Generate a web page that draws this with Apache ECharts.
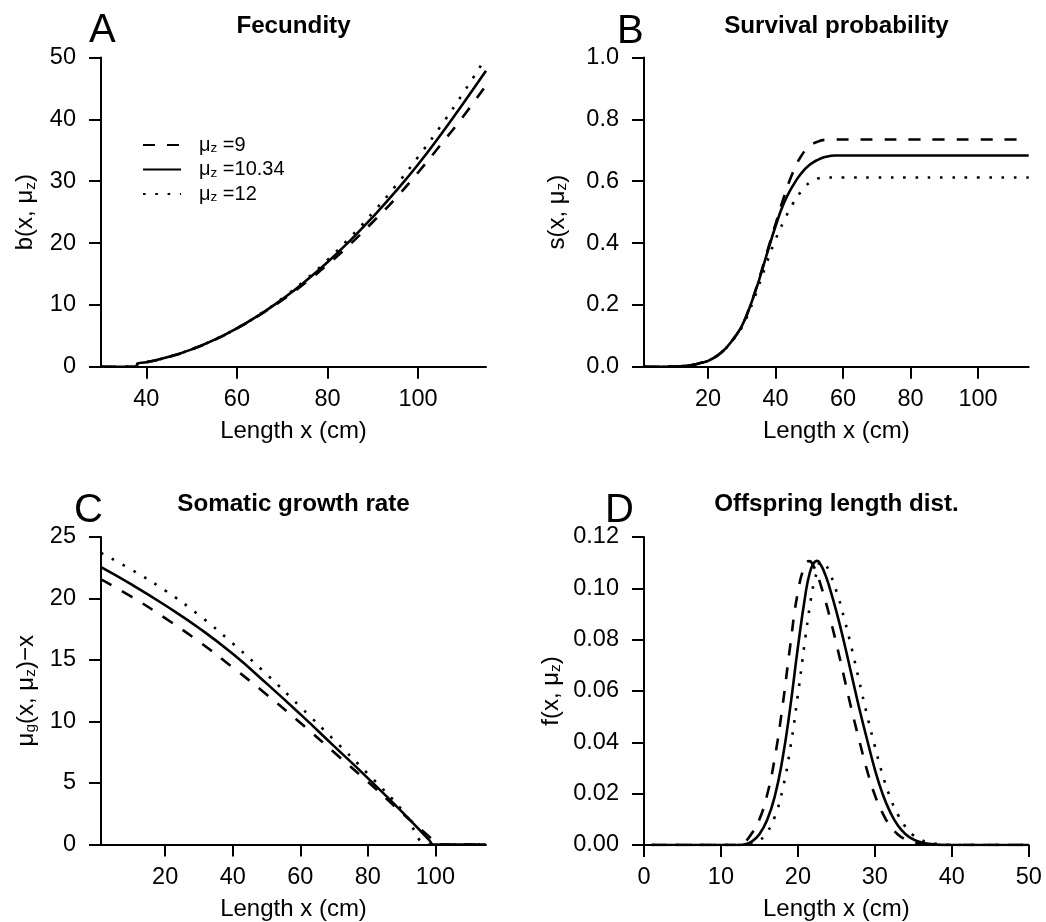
<!DOCTYPE html>
<html>
<head>
<meta charset="utf-8">
<title>Vital rates</title>
<script src="https://cdn.jsdelivr.net/npm/echarts@6/dist/echarts.min.js"></script>
<style>
  html, body { margin: 0; padding: 0; background: #fff; }
  #chart { width: 1046px; height: 922px; }
</style>
</head>
<body>
<div id="chart"></div>
<script>
// legend: mu_z values
var muValues = ['9', '10.34', '12'];

// A - fecundity
var xFec = [30, 37.9, 38, 40, 45, 50, 55, 60, 65, 70, 75, 80, 85, 90, 95, 100, 105, 110, 115];
var fec9 = [0, 0, 0.46, 0.72, 1.58, 2.79, 4.32, 6.2, 8.33, 10.76, 13.5, 16.5, 19.8, 23.4, 27.2, 31.4, 35.9, 40.5, 45.5];
var fec1034 = [0, 0, 0.46, 0.72, 1.59, 2.8, 4.33, 6.2, 8.39, 10.9, 13.74, 16.9, 20.4, 24.2, 28.3, 32.7, 37.5, 42.6, 47.85];
var fec12 = [0, 0, 0.46, 0.73, 1.6, 2.81, 4.35, 6.22, 8.44, 11.03, 13.97, 17.25, 20.9, 24.9, 29.2, 33.9, 38.9, 44.3, 50];

// B - survival
var xSurv = [1, 5, 10, 12.5, 15, 17.5, 20, 22.5, 25, 27.5, 30, 32.5, 35, 37.5, 40, 42.5, 45, 47.5, 50, 52.5, 55, 57.5, 60, 70, 80, 90, 100, 110, 115];
var surv9 = [0, 0, 0.0005, 0.002, 0.005, 0.011, 0.019, 0.034, 0.057, 0.09, 0.133, 0.199, 0.281, 0.372, 0.462, 0.55, 0.625, 0.68, 0.712, 0.728, 0.734, 0.735, 0.735, 0.735, 0.735, 0.735, 0.735, 0.735, 0.735];
var surv1034 = [0, 0, 0.0005, 0.002, 0.005, 0.011, 0.019, 0.034, 0.057, 0.09, 0.132, 0.197, 0.277, 0.367, 0.455, 0.53, 0.583, 0.624, 0.652, 0.669, 0.679, 0.683, 0.683, 0.683, 0.683, 0.683, 0.683, 0.683, 0.683];
var surv12 = [0, 0, 0.0005, 0.002, 0.005, 0.011, 0.019, 0.034, 0.056, 0.088, 0.127, 0.188, 0.262, 0.34, 0.412, 0.472, 0.525, 0.566, 0.595, 0.609, 0.612, 0.612, 0.612, 0.612, 0.612, 0.612, 0.612, 0.612, 0.612];

// C - somatic growth
var xGrowth = [1, 10, 20, 30, 40, 50, 60, 70, 80, 90, 98.2, 99.4, 100.8, 105, 115];
var growth9 = [21.55, 20.15, 18.4, 16.5, 14.4, 12.2, 9.9, 7.5, 5.1, 2.6, 0.63, 0.34, 0, 0, 0];
var growth1034 = [22.55, 21.15, 19.45, 17.6, 15.5, 13.1, 10.6, 8.0, 5.4, 2.7, 0.35, 0, 0, 0, 0];
var growth12 = [23.7, 22.35, 20.65, 18.65, 16.35, 13.85, 11.2, 8.5, 5.75, 2.85, 0, 0, 0, 0, 0];

// D - offspring length distribution
var xOff = [1, 5, 10, 12, 13, 14, 15, 16, 17, 18, 19, 20, 21, 21.5, 22, 22.5, 23, 23.5, 24, 25, 26, 27, 28, 29, 30, 31, 32, 33, 34, 35, 36, 37, 38, 39, 40, 45, 50];
var off9 = [0, 0, 0, 0, 0.001, 0.0045, 0.01, 0.0195, 0.034, 0.054, 0.0775, 0.0985, 0.1097, 0.1106, 0.1088, 0.1055, 0.101, 0.096, 0.0905, 0.0785, 0.0655, 0.0525, 0.0405, 0.029, 0.0195, 0.0125, 0.0074, 0.0041, 0.0021, 0.001, 0.0004, 0.0001, 0, 0, 0, 0, 0];
var off1034 = [0, 0, 0, 0, 0.0002, 0.0013, 0.0042, 0.0097, 0.019, 0.0335, 0.0535, 0.077, 0.098, 0.1055, 0.1095, 0.1107, 0.109, 0.1058, 0.1015, 0.091, 0.079, 0.066, 0.053, 0.041, 0.0295, 0.02, 0.0128, 0.0076, 0.0042, 0.0022, 0.0011, 0.0005, 0.0002, 0, 0, 0, 0];
var off12 = [0, 0, 0, 0, 0, 0.0003, 0.0017, 0.005, 0.011, 0.0215, 0.0375, 0.0585, 0.0815, 0.092, 0.101, 0.1065, 0.1105, 0.1095, 0.107, 0.099, 0.0885, 0.0765, 0.0635, 0.0505, 0.0385, 0.0275, 0.0185, 0.0118, 0.007, 0.0038, 0.002, 0.001, 0.0005, 0.0002, 0, 0, 0];

// tick values
var xTicksA = [40, 60, 80, 100];
var xTicksBC = [20, 40, 60, 80, 100];
var xTicksD = [0, 10, 20, 30, 40, 50];
var yTicksA = [0, 10, 20, 30, 40, 50];
var yTicksB = [0, 0.2, 0.4, 0.6, 0.8, 1.0];
var yTicksC = [0, 5, 10, 15, 20, 25];
var yTicksD = [0, 0.02, 0.04, 0.06, 0.08, 0.10, 0.12];

var FONT = "'Liberation Sans', Arial, Helvetica, sans-serif";
var seriesNames = muValues.map(function (v) { return 'μz =' + v; });
var lineStyles = [
    {color: '#000', width: 2.6, type: [12, 12]},
    {color: '#000', width: 2.6, type: 'solid'},
    {color: '#000', width: 2.6, type: [2.6, 9.7], cap: 'butt'}
];
var subRich = {sub: {fontSize: 15.5, padding: [10, 0, 0, 0]}};

function xAxisCfg(grid, min, max, ticks, gap) {
    return {
        type: 'value', gridIndex: grid, min: min, max: max,
        name: 'Length x (cm)', nameLocation: 'middle', nameGap: gap,
        nameTextStyle: {fontSize: 24, color: '#000', fontFamily: FONT},
        axisLine: {show: true, onZero: false, lineStyle: {color: '#000', width: 2}},
        axisTick: {show: true, length: 12, customValues: ticks, lineStyle: {color: '#000', width: 2}},
        axisLabel: {fontSize: 23.5, color: '#000', margin: 21, customValues: ticks, fontFamily: FONT},
        splitLine: {show: false}
    };
}
function yAxisCfg(grid, min, max, ticks, digits, name, gap) {
    return {
        type: 'value', gridIndex: grid, min: min, max: max,
        name: name, nameLocation: 'middle', nameGap: gap, nameRotate: 90,
        nameTextStyle: {fontSize: 24, color: '#000', fontFamily: FONT, rich: subRich},
        axisLine: {show: true, lineStyle: {color: '#000', width: 2}},
        axisTick: {show: true, length: 12, customValues: ticks, lineStyle: {color: '#000', width: 2}},
        axisLabel: {fontSize: 23.5, color: '#000', margin: 25, customValues: ticks, fontFamily: FONT,
            formatter: function (v) { return v.toFixed(digits); }},
        splitLine: {show: false}
    };
}
function makeSeries(grid, xs, ysList) {
    return ysList.map(function (ys, k) {
        return {
            name: seriesNames[k], type: 'line', xAxisIndex: grid, yAxisIndex: grid,
            data: xs.map(function (x, i) { return [x, ys[i]]; }),
            symbol: 'none', smooth: 0.5, lineStyle: lineStyles[k],
            itemStyle: {color: '#000'}, silent: true
        };
    });
}

var chart = echarts.init(document.getElementById('chart'), null, {renderer: 'canvas'});
var titleStyle = {fontSize: 24.2, fontWeight: 'bold', color: '#000', fontFamily: FONT};
var letterStyle = {fontSize: 40, fontWeight: 'normal', color: '#000', fontFamily: FONT};

chart.setOption({
    animation: false,
    backgroundColor: '#fff',
    textStyle: {fontFamily: FONT},
    title: [
        {text: 'A', left: 89, top: 11, padding: 0, textStyle: letterStyle},
        {text: 'B', left: 617, top: 12, padding: 0, textStyle: letterStyle},
        {text: 'C', left: 74, top: 491, padding: 0, textStyle: letterStyle},
        {text: 'D', left: 605, top: 491, padding: 0, textStyle: letterStyle},
        {text: 'Fecundity', left: 293.5, textAlign: 'center', top: 14, padding: 0, textStyle: titleStyle},
        {text: 'Survival probability', left: 836.4, textAlign: 'center', top: 14, padding: 0, textStyle: titleStyle},
        {text: 'Somatic growth rate', left: 293.5, textAlign: 'center', top: 492, padding: 0, textStyle: titleStyle},
        {text: 'Offspring length dist.', left: 836.4, textAlign: 'center', top: 492, padding: 0, textStyle: titleStyle}
    ],
    legend: {
        data: seriesNames, orient: 'vertical', left: 142, top: 135, padding: 0,
        itemWidth: 38, itemHeight: 14, itemGap: 4, selectedMode: false,
        itemStyle: {color: 'rgba(0,0,0,0)', borderColor: 'rgba(0,0,0,0)', borderWidth: 0},
        formatter: function (n) { return '{mu|μ}{sub|z}' + n.replace('μz', ''); },
        textStyle: {fontSize: 20, color: '#000', fontFamily: FONT,
            rich: {mu: {fontSize: 20, padding: [0, 0, 0, 13]}, sub: {fontSize: 13.5, padding: [7, 0, 0, 0]}}}
    },
    grid: [
        {left: 101, top: 57.5, width: 385, height: 309.2},
        {left: 644, top: 57.5, width: 384.7, height: 309.2},
        {left: 101, top: 537, width: 385, height: 308.5},
        {left: 644, top: 537, width: 384.7, height: 308.5}
    ],
    xAxis: [
        xAxisCfg(0, 30, 115, xTicksA, 52.5),
        xAxisCfg(1, 1, 115, xTicksBC, 52.5),
        xAxisCfg(2, 1, 115, xTicksBC, 52.5),
        xAxisCfg(3, 0, 50, xTicksD, 52)
    ],
    yAxis: [
        yAxisCfg(0, 0, 50, yTicksA, 0, 'b(x, μ{sub|z})', 62.5),
        yAxisCfg(1, 0, 1, yTicksB, 1, 's(x, μ{sub|z})', 74),
        yAxisCfg(2, 0, 25, yTicksC, 0, 'μ{sub|g}(x, μ{sub|z})\u2212x', 62),
        yAxisCfg(3, 0, 0.12, yTicksD, 2, 'f(x, μ{sub|z})', 80)
    ],
    series: [].concat(
        makeSeries(0, xFec, [fec9, fec1034, fec12]),
        makeSeries(1, xSurv, [surv9, surv1034, surv12]),
        makeSeries(2, xGrowth, [growth9, growth1034, growth12]),
        makeSeries(3, xOff, [off9, off1034, off12])
    )
});
</script>
</body>
</html>
